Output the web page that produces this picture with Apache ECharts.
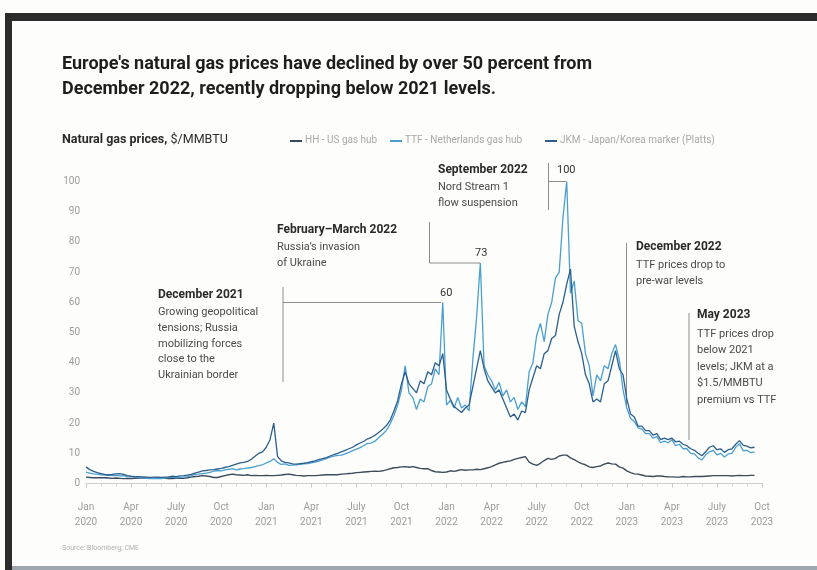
<!DOCTYPE html>
<html>
<head>
<meta charset="utf-8">
<script src="https://cdn.jsdelivr.net/npm/echarts@6/dist/echarts.min.js"></script>
<style>
  html, body { margin: 0; padding: 0; background: #fdfdfc; }
  #chart { width: 817px; height: 570px; }
</style>
</head>
<body>
<div id="chart"></div>
<script>
// Weekly-ish samples (4 per month) starting Jan 2020, $/MMBTU
const hh = [
  2.1,2.0,1.9,1.9, 1.9,1.9,1.8,1.7, 1.8,1.7,1.6,1.7, 1.6,1.7,1.8,1.9, 1.8,1.7,1.7,1.8, 1.7,1.7,1.6,1.6,
  1.7,1.8,1.7,1.9, 2.1,2.3,2.4,2.6, 2.5,2.3,2.0,2.0, 2.3,2.6,2.9,3.1, 2.9,2.8,2.7,2.9, 2.6,2.7,2.6,2.6,
  2.7,2.6,2.6,2.7, 2.8,3.0,3.1,2.9, 2.7,2.6,2.5,2.6, 2.6,2.6,2.7,2.8, 2.9,2.9,2.9,2.9, 3.1,3.2,3.3,3.4,
  3.6,3.7,3.8,3.9, 4.0,4.1,4.0,4.2, 4.5,4.9,5.2,5.3, 5.5,5.6,5.4,5.6, 5.3,5.0,4.9,4.9, 4.3,3.9,3.8,3.7,
  3.8,4.2,4.0,4.3, 4.6,4.4,4.5,4.5, 4.7,4.6,4.9,5.2, 5.6,6.2,6.7,7.0, 7.3,7.5,8.0,8.3, 8.6,8.9,7.1,6.4,
  6.0,6.7,7.6,8.3, 8.0,8.3,9.1,9.4, 9.4,8.5,7.9,7.2, 6.6,6.2,5.5,5.3, 5.6,5.8,6.4,6.8, 6.5,6.4,5.5,5.1,
  4.2,3.6,3.2,3.1, 2.8,2.5,2.4,2.3, 2.5,2.5,2.3,2.2, 2.2,2.1,2.1,2.3, 2.2,2.2,2.3,2.3, 2.3,2.4,2.5,2.6,
  2.6,2.6,2.6,2.6, 2.5,2.6,2.7,2.6, 2.6,2.7,2.7
];
const ttf = [
  3.8,3.4,3.2,3.1, 2.9,2.8,2.7,2.6, 2.7,2.5,2.6,2.3, 2.2,2.1,2.0,1.9, 1.7,1.6,1.6,1.7, 1.6,1.8,2.0,2.1,
  1.9,2.0,2.1,2.3, 2.6,3.0,3.1,3.3, 3.4,3.7,4.1,4.3, 4.2,4.5,4.7,4.9, 4.5,4.8,4.9,5.1, 5.3,5.6,5.9,6.2,
  6.8,7.3,8.2,7.0, 6.3,6.5,6.0,6.1, 6.2,6.3,6.5,6.6, 6.8,7.1,7.4,7.8, 8.2,8.7,9.1,9.3, 9.4,9.8,10.3,10.9,
  11.4,11.9,12.6,13.3, 13.4,14.1,15.2,16.3, 17.6,19.8,22.5,26.0, 31.0,39.0,30.0,28.5, 24.5,28.0,27.0,32.0, 33.0,38.0,36.0,60.0,
  26.0,27.5,25.0,28.5, 25.0,26.0,24.0,41.0, 55.0,73.0,39.0,36.0, 34.0,31.0,33.5,29.0, 31.0,27.0,28.5,24.5, 27.0,25.5,37.0,40.0,
  49.0,53.0,47.0,56.0, 60.0,68.0,70.0,88.0, 100.0,63.0,67.0,54.0, 53.0,43.0,39.0,29.0, 36.0,34.0,39.0,38.0, 43.0,46.0,41.0,31.0,
  25.0,21.5,20.5,18.5, 18.0,16.5,16.5,15.0, 15.5,13.5,14.0,13.5, 14.5,12.5,13.0,11.5, 11.5,10.0,9.8,8.5, 7.8,9.5,10.5,11.0,
  9.5,10.0,8.8,9.8, 10.0,12.0,13.2,10.8, 11.0,10.2,10.5
];
const jkm = [
  5.5,4.6,4.0,3.6, 3.3,3.0,2.9,3.0, 3.2,3.3,3.0,2.6, 2.4,2.3,2.3,2.2, 2.1,2.0,2.1,2.1, 2.0,2.1,2.2,2.4,
  2.3,2.5,2.6,2.8, 3.0,3.4,3.8,4.2, 4.3,4.5,4.6,4.8, 5.0,5.3,5.6,6.0, 6.4,6.8,7.0,7.3, 8.0,9.0,10.0,10.5,
  12.0,14.5,20.0,9.0, 7.5,7.0,6.8,6.5, 6.4,6.6,6.7,6.9, 7.2,7.5,7.9,8.2, 8.6,9.1,9.6,10.0, 10.5,11.0,11.5,12.0,
  12.8,13.4,14.0,14.8, 15.3,16.0,17.0,18.0, 19.2,21.0,24.0,27.5, 33.0,37.0,33.0,31.5, 30.0,34.0,33.0,37.0, 36.0,40.0,39.0,43.0,
  31.0,28.0,25.5,24.5, 23.5,25.0,26.0,32.0, 38.0,44.0,38.0,34.0, 32.0,30.0,31.0,28.0, 25.0,22.0,23.0,21.0, 24.0,23.5,31.0,35.0,
  39.0,38.0,43.0,44.0, 48.0,49.0,56.0,60.0, 66.0,71.0,52.0,47.0, 43.0,36.0,33.0,27.0, 28.0,27.0,33.0,34.0, 39.0,44.0,38.0,36.0,
  28.0,23.0,22.0,19.0, 19.0,17.5,17.5,16.0, 16.5,14.5,15.0,14.5, 15.0,13.8,14.0,13.0, 12.5,11.5,11.0,10.0, 9.2,10.5,12.0,12.5,
  11.2,11.5,10.3,11.2, 11.5,13.0,14.2,12.6, 12.4,11.8,12.0
];
const xTickLabels = [
  'Jan\n2020','Apr\n2020','July\n2020','Oct\n2020',
  'Jan\n2021','Apr\n2021','July\n2021','Oct\n2021',
  'Jan\n2022','Apr\n2022','July\n2022','Oct\n2022',
  'Jan\n2023','Apr\n2023','July\n2023','Oct\n2023'
];
const seriesNames = ['HH - US gas hub', 'TTF - Netherlands gas hub', 'JKM - Japan/Korea marker (Platts)'];
const seriesColors = ['#3d4c5a', '#4a9fd0', '#2b5f8e'];

const pairs = arr => arr.map((v, i) => [i / 4, v]);

const FONT = 'Roboto, "Noto Sans", sans-serif';
const chart = echarts.init(document.getElementById('chart'), null, { renderer: 'canvas' });

function annotation(x, yTop, head, bodyLines, lh) {
  return [
    { type: 'text', left: x, top: yTop, style: { text: head, fill: '#2a2a2a', font: 'bold 12px ' + FONT } },
    { type: 'text', left: x, top: yTop + lh, style: { text: bodyLines.join('\n'), fill: '#4a4a4a', font: '11px ' + FONT, lineHeight: lh } }
  ];
}
function seg(x1, y1, x2, y2) {
  return { type: 'line', shape: { x1, y1, x2, y2 }, style: { stroke: '#8d8d8d', lineWidth: 1 }, silent: true };
}
function legendItem(x, name, color) {
  return [
    { type: 'rect', shape: { x: x, y: 140, width: 12, height: 2 }, style: { fill: color } },
    { type: 'text', left: x + 15, top: 135.5, style: { text: name, fill: '#a9a9a9', font: '10px ' + FONT } }
  ];
}

const graphics = [].concat(
  // frame
  [{ type: 'rect', shape: { x: 5, y: 13, width: 812, height: 8 }, style: { fill: '#2c2c2c' } },
   { type: 'rect', shape: { x: 5, y: 13, width: 7, height: 557 }, style: { fill: '#2c2c2c' } },
   { type: 'rect', shape: { x: 12, y: 566, width: 805, height: 4 }, style: { fill: '#9ea6ae' } }],
  // title
  [{ type: 'text', left: 62, top: 52, style: { text: "Europe's natural gas prices have declined by over 50 percent from\nDecember 2022, recently dropping below 2021 levels.", fill: '#1e1e1e', font: 'bold 18px ' + FONT, lineHeight: 25 } },
   { type: 'text', left: 62, top: 133, style: { text: '{b|Natural gas prices,} {n|$/MMBTU}', rich: { b: { font: 'bold 12.5px ' + FONT, fill: '#2a2a2a' }, n: { font: '12.5px ' + FONT, fill: '#2a2a2a' } } } },
   { type: 'text', left: 62, top: 545, style: { text: 'Source: Bloomberg; CME', fill: '#b0b0b0', font: '7px ' + FONT } }],
  legendItem(290, seriesNames[0], seriesColors[0]),
  legendItem(390, seriesNames[1], seriesColors[1]),
  legendItem(545, seriesNames[2], seriesColors[2]),
  // annotations
  annotation(158, 289, 'December 2021', ['Growing geopolitical', 'tensions; Russia', 'mobilizing forces', 'close to the', 'Ukrainian border'], 15.7),
  annotation(277, 224, 'February\u2013March 2022', ['Russia\u2019s invasion', 'of Ukraine'], 15.5),
  annotation(438, 164, 'September 2022', ['Nord Stream 1', 'flow suspension'], 15.5),
  annotation(636, 241, 'December 2022', ['TTF prices drop to', 'pre-war levels'], 16),
  annotation(697, 309, 'May 2023', ['TTF prices drop', 'below 2021', 'levels; JKM at a', '$1.5/MMBTU', 'premium vs TTF'], 16.5),
  [seg(283, 287, 283, 382), seg(283, 302.5, 441, 302.5),
   seg(429.5, 222, 429.5, 263), seg(429.5, 263, 480, 263),
   seg(548.5, 163, 548.5, 210), seg(548.5, 181.5, 566, 181.5),
   seg(626.5, 243, 626.5, 405),
   seg(689, 313, 689, 440)],
  [{ type: 'text', left: 440, top: 288, style: { text: '60', fill: '#333', font: '11px ' + FONT } },
   { type: 'text', left: 475, top: 248, style: { text: '73', fill: '#333', font: '11px ' + FONT } },
   { type: 'text', left: 557, top: 165, style: { text: '100', fill: '#333', font: '11px ' + FONT } }]
);

chart.setOption({
  animation: false,
  backgroundColor: '#fdfdfc',
  grid: { left: 86, right: 55, top: 181.5, bottom: 86.5 },
  xAxis: {
    type: 'value', min: 0, max: 45, interval: 3,
    axisLine: { show: true, lineStyle: { color: '#cfcfcf', width: 1 } },
    axisTick: { show: true, length: 4, lineStyle: { color: '#c8c8c8' } },
    minorTick: { show: true, splitNumber: 3, length: 3, lineStyle: { color: '#d4d4d4' } },
    splitLine: { show: false },
    axisLabel: {
      margin: 16, color: '#9c9c9c', fontSize: 10, lineHeight: 15, fontFamily: FONT,
      formatter: v => xTickLabels[Math.round(v / 3)] || ''
    }
  },
  yAxis: {
    type: 'value', min: 0, max: 100, interval: 10,
    axisLine: { show: false }, axisTick: { show: false }, splitLine: { show: false },
    axisLabel: { margin: 6, color: '#9c9c9c', fontSize: 10, fontFamily: FONT }
  },
  series: [
    { name: seriesNames[0], type: 'line', data: pairs(hh), showSymbol: false, lineStyle: { width: 1.4, color: seriesColors[0] }, itemStyle: { color: seriesColors[0] } },
    { name: seriesNames[1], type: 'line', data: pairs(ttf), showSymbol: false, lineStyle: { width: 1.3, color: seriesColors[1] }, itemStyle: { color: seriesColors[1] } },
    { name: seriesNames[2], type: 'line', data: pairs(jkm), showSymbol: false, lineStyle: { width: 1.3, color: seriesColors[2] }, itemStyle: { color: seriesColors[2] } }
  ],
  graphic: graphics
});
</script>
</body>
</html>
